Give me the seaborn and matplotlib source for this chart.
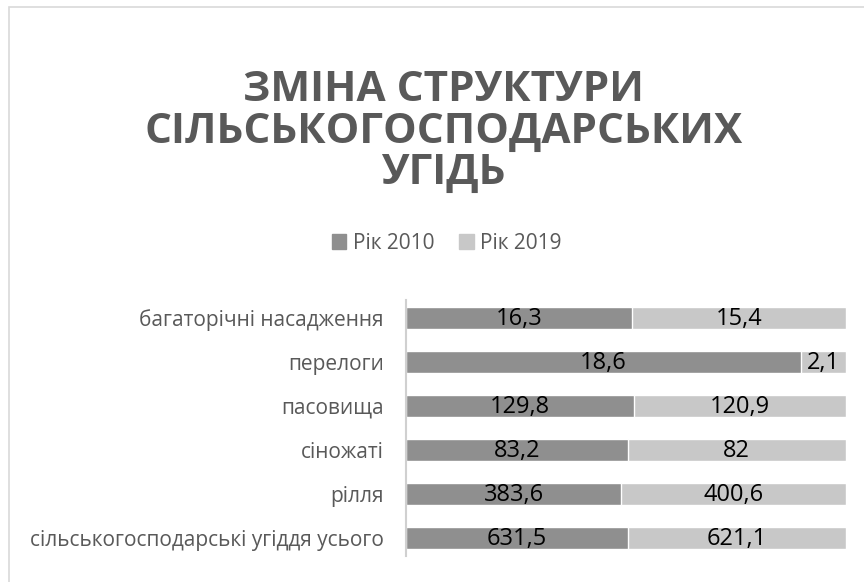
import matplotlib
matplotlib.use("Agg")
import matplotlib.pyplot as plt
import matplotlib.patches as mpatches
import seaborn as sns
import pandas as pd

categories = ["багаторічні насадження", "перелоги", "пасовища", "сіножаті",
              "рілля", "сільськогосподарські угіддя усього"]
values_2010 = [16.3, 18.6, 129.8, 83.2, 383.6, 631.5]
values_2019 = [15.4, 2.1, 120.9, 82, 400.6, 621.1]
series_names = ["Рік 2010", "Рік 2019"]
title_text = "ЗМІНА СТРУКТУРИ\nСІЛЬСЬКОГОСПОДАРСЬКИХ\nУГІДЬ"

c2010 = "#8f8f8f"
c2019 = "#c8c8c8"
txt = "#595959"

df = pd.DataFrame({"cat": categories, "v10": values_2010, "v19": values_2019})
df["tot"] = df["v10"] + df["v19"]
df["p10"] = df["v10"] / df["tot"] * 100
df["p100"] = 100.0

sns.set_theme(style="white")
plt.rcParams["font.family"] = ["Open Sans", "DejaVu Sans"]

fig = plt.figure(figsize=(8.64, 5.82), dpi=100)
ax = fig.add_axes([406 / 864, 1 - 560 / 582, 440 / 864, 264 / 582])

sns.barplot(data=df, x="p100", y="cat", order=categories, color=c2019,
            width=0.5, ax=ax, saturation=1, orient="h")
sns.barplot(data=df, x="p10", y="cat", order=categories, color=c2010,
            width=0.5, ax=ax, saturation=1, orient="h")

def fmt(v):
    s = f"{v:g}"
    return s.replace(".", ",")

for i, row in df.iterrows():
    ax.text(row["p10"] / 2, i + 0.02, fmt(row["v10"]), ha="center", va="center",
            fontsize=17, color="#000000")
    p19 = 100 - row["p10"]
    ax.text(row["p10"] + p19 / 2, i + 0.02, fmt(row["v19"]), ha="center", va="center",
            fontsize=17, color="#000000")

ax.set_xlim(0, 100)
ax.set_ylim(5.5, -0.5)
ax.set_xlabel("")
ax.set_ylabel("")
ax.set_xticks([])
for s in ["top", "right", "bottom"]:
    ax.spines[s].set_visible(False)
ax.spines["left"].set_color("#d0d0d0")
ax.spines["left"].set_linewidth(1.5)
ax.spines["left"].set_bounds(-0.4, 5.4)
ax.tick_params(axis="y", length=0, pad=16, labelsize=15, labelcolor=txt)

fig.text(0.513, 1 - 132 / 582, title_text, ha="center", va="center",
         fontsize=30.4, fontweight="bold", color=txt, linespacing=1.03)

handles = [mpatches.Patch(color=c2010, label=series_names[0]),
           mpatches.Patch(color=c2019, label=series_names[1])]
leg = fig.legend(handles=handles, loc="center", bbox_to_anchor=(0.517, 1 - 243 / 582),
                 ncol=2, frameon=False, fontsize=15, handlelength=0.7, handleheight=0.7,
                 handletextpad=0.3, columnspacing=1.2)
for t in leg.get_texts():
    t.set_color(txt)

border = mpatches.Rectangle((9 / 864, -0.1), 1.2, 1 - 7 / 582 + 0.1, transform=fig.transFigure,
                            fill=False, edgecolor="#d9d9d9", linewidth=1.2)
fig.patches.append(border)

fig.savefig("out.png", dpi=100)
